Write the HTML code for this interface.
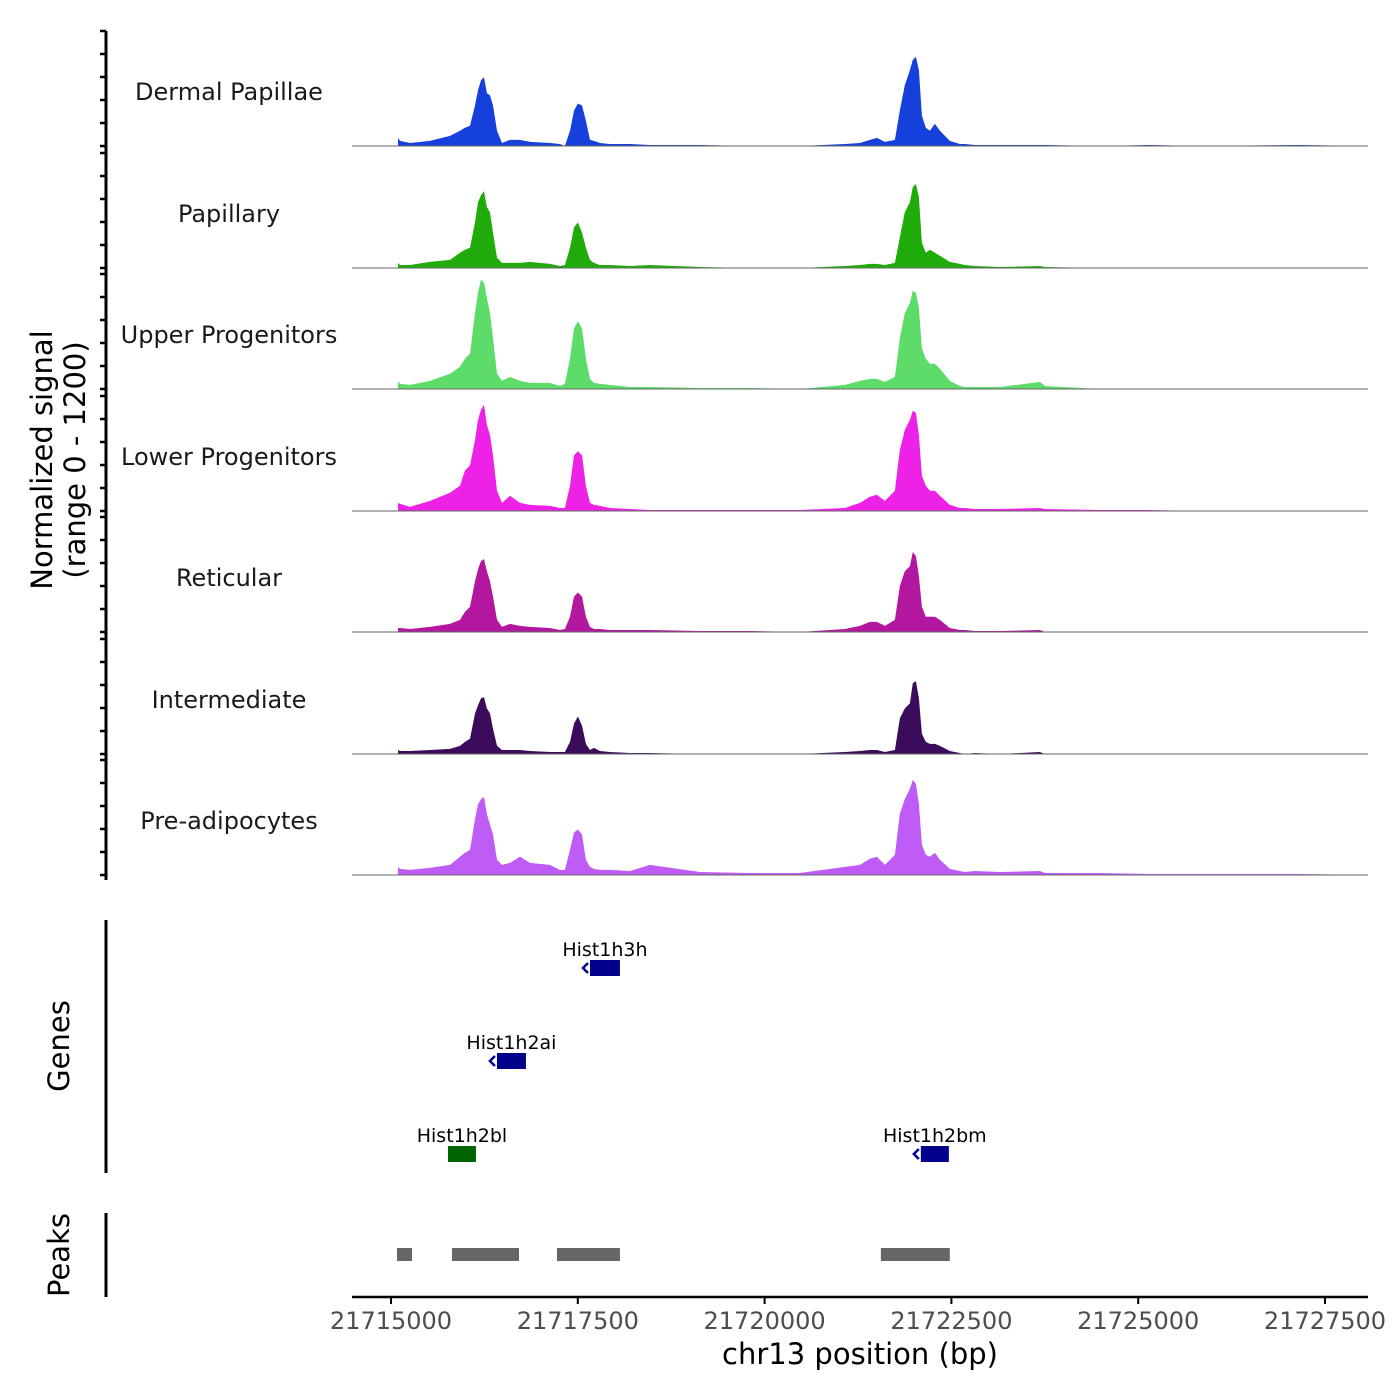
<!DOCTYPE html>
<html><head><meta charset="utf-8"><style>
html,body{margin:0;padding:0;background:#fff;}
svg{display:block;font-family:"DejaVu Sans","Liberation Sans",sans-serif;}
</style></head><body>
<svg id="chart" width="1400" height="1400" viewBox="0 0 1400 1400">
<text x="52" y="460" font-size="29" text-anchor="middle" transform="rotate(-90 52 460)">Normalized signal</text>
<text x="85" y="460" font-size="29" text-anchor="middle" transform="rotate(-90 85 460)">(range 0 - 1200)</text>
<text x="69" y="1046" font-size="29" text-anchor="middle" transform="rotate(-90 69 1046)">Genes</text>
<text x="69" y="1255" font-size="29" text-anchor="middle" transform="rotate(-90 69 1255)">Peaks</text>
<text x="860" y="1364" font-size="29" text-anchor="middle">chr13 position (bp)</text>
</svg>
<script>
const positions=[21715094,21715120,21715254,21715522,21715789,21715923,21715990,21716057,21716124,21716164,21716204,21716244,21716284,21716325,21716365,21716418,21716485,21716592,21716726,21716860,21717127,21717261,21717328,21717395,21717449,21717502,21717556,21717609,21717663,21717716,21717796,21717930,21718198,21718465,21719134,21719803,21720472,21721075,21721275,21721409,21721503,21721610,21721744,21721810,21721877,21721944,21721984,21722025,21722065,21722105,21722158,21722212,21722279,21722346,21722479,21722613,21722680,21722814,21723148,21723684,21723751,21724486,21725155,21725824,21727162,21728099];
const trackNames=["Dermal Papillae","Papillary","Upper Progenitors","Lower Progenitors","Reticular","Intermediate","Pre-adipocytes"];
const trackColors=["#1640db","#1fac0b","#5ddc69","#ee22e6","#b3169f","#3b0b5c","#c05cf6"];
const dermalPapillae=[80,50,30,50,100,150,180,200,400,550,650,680,520,500,400,150,30,60,60,40,30,20,0,150,350,420,400,250,60,50,30,20,20,10,10,0,0,20,30,60,80,40,60,350,600,750,850,880,750,300,180,150,220,150,50,20,20,10,10,10,10,0,10,0,10,0];
const papillary=[50,30,30,60,80,150,180,200,450,650,720,760,600,550,350,100,50,50,50,60,40,20,30,200,400,450,350,200,80,50,30,30,20,30,10,0,0,20,30,40,40,30,50,300,550,650,800,830,700,250,150,180,150,120,60,40,30,20,10,20,10,0,0,0,0,0];
const upperProgenitors=[80,50,40,80,150,220,300,350,750,950,1080,1050,900,750,500,150,80,120,80,60,60,30,50,300,600,670,600,300,100,60,50,40,20,20,10,10,0,40,80,100,100,70,120,500,750,850,970,950,800,400,300,250,250,200,80,30,20,20,20,70,30,0,0,0,0,0];
const lowerProgenitors=[80,70,40,100,180,250,400,450,700,900,1000,1050,850,750,550,200,80,150,80,60,50,30,30,250,550,590,550,250,80,60,50,30,20,10,10,10,10,30,80,140,160,100,200,600,800,900,990,970,750,350,250,200,200,150,60,30,30,20,20,30,20,10,10,0,0,0];
const reticular=[40,40,30,50,80,120,200,250,500,620,700,720,600,500,350,120,50,80,60,50,40,20,30,150,350,390,350,150,50,30,30,20,20,20,10,10,0,30,60,100,100,60,120,450,600,650,790,750,550,250,150,150,150,120,40,20,20,10,10,20,0,0,0,0,0,0];
const intermediate=[40,30,30,40,50,80,120,150,400,480,550,560,450,400,250,80,40,40,40,30,20,20,20,120,300,370,280,100,40,60,30,20,10,10,0,0,0,20,30,40,40,20,40,350,450,500,700,720,550,200,120,100,100,80,30,10,0,10,0,20,0,0,0,0,0,0];
const preAdipocytes=[80,60,50,70,100,180,220,250,550,700,750,770,600,500,400,150,100,120,180,120,100,50,50,250,420,450,400,150,80,60,50,50,40,100,30,20,20,80,100,160,180,100,200,600,750,850,940,900,700,300,200,180,220,150,60,40,30,40,30,40,20,20,10,10,10,0];
const trackValues=[dermalPapillae,papillary,upperProgenitors,lowerProgenitors,reticular,intermediate,preAdipocytes];
const xTicks=[21715000,21717500,21720000,21722500,21725000,21727500];
const xTickLabels=["21715000","21717500","21720000","21722500","21725000","21727500"];
const geneNames=["Hist1h3h","Hist1h2ai","Hist1h2bl","Hist1h2bm"];
const geneStarts=[21717663,21716418,21715763,21722091];
const geneEnds=[21718064,21716806,21716137,21722466];
const geneRows=[0,1,2,2];
const geneStrandMinus=[true,true,false,true];
const geneColors=["#00008b","#00008b","#006400","#00008b"];
const peakStarts=[21715080,21715816,21717221,21721556];
const peakEnds=[21715281,21716713,21718064,21722479];

const NS="http://www.w3.org/2000/svg";
const svg=document.getElementById("chart");
const X0=391,BP0=21715000,PXPB=186.8/2500;
const xs=bp=>X0+(bp-BP0)*PXPB;
const baselines=[146,268,389,511,632,754,875];
const trackH=121.5;
const ys=(v,b)=>b-v/1200*trackH;
function mk(tag,attrs,parent){const e=document.createElementNS(NS,tag);for(const k in attrs)e.setAttribute(k,attrs[k]);(parent||svg).appendChild(e);return e;}

let ax=mk("line",{x1:106,y1:31,x2:106,y2:880,stroke:"#000","stroke-width":3});


baselines.forEach((b,i)=>{
  for(let k=0;k<6;k++){
    const t=mk("line",{x1:100,y1:b-k*23,x2:106,y2:b-k*23,stroke:"#000","stroke-width":2.5});
    
    
  }
});
let ga=mk("line",{x1:106,y1:920,x2:106,y2:1173,stroke:"#000","stroke-width":3});


let pa=mk("line",{x1:106,y1:1213,x2:106,y2:1297,stroke:"#000","stroke-width":3});



trackNames.forEach((name,i)=>{
  const b=baselines[i],vals=trackValues[i];
  const g=mk("g",{});
  
  
  let d="M"+xs(positions[0]).toFixed(1)+","+b;
  positions.forEach((p,j)=>{d+=" L"+xs(p).toFixed(1)+","+ys(vals[j],b).toFixed(1);});
  d+=" L"+xs(positions[positions.length-1]).toFixed(1)+","+b+" Z";
  const a=mk("path",{d:d,fill:trackColors[i]},g);
  
  
  const bl=mk("line",{x1:352,y1:b,x2:1368,y2:b,stroke:"#666","stroke-width":1},g);
  
  
  const t=mk("text",{x:229,y:b-46,"font-size":24,"text-anchor":"middle",fill:"#1a1a1a"},g);
  t.textContent=name;
  
  
});

const rowY=[968,1061,1154];
geneNames.forEach((n,i)=>{
  const g=mk("g",{});
  
  
  const x1=xs(geneStarts[i]),x2=xs(geneEnds[i]),y=rowY[geneRows[i]];
  const r=mk("rect",{x:x1,y:y-8,width:x2-x1,height:16,fill:geneColors[i]},g);
  
  
  if(geneStrandMinus[i]){
    const ar=mk("path",{d:`M${x1-2},${y-5} L${x1-7},${y} L${x1-2},${y+5}`,stroke:geneColors[i],"stroke-width":2.5,fill:"none"},g);
    
    
  }
  const t=mk("text",{x:(x1+x2)/2,y:y-12,"font-size":19,"text-anchor":"middle"},g);
  t.textContent=n;
  
  
});

peakStarts.forEach((s,i)=>{
  const r=mk("rect",{x:xs(s),y:1248,width:xs(peakEnds[i])-xs(s),height:13,fill:"#666"});
  
  
});

let xa=mk("line",{x1:352,y1:1297,x2:1368,y2:1297,stroke:"#000","stroke-width":2.5});


xTicks.forEach((v,i)=>{
  const t=mk("line",{x1:xs(v),y1:1297,x2:xs(v),y2:1304,stroke:"#000","stroke-width":2});
  
  
  const l=mk("text",{x:xs(v),y:1329,"font-size":24,"text-anchor":"middle",fill:"#4d4d4d"});
  l.textContent=xTickLabels[i];
  
  
});
</script>
</body></html>
